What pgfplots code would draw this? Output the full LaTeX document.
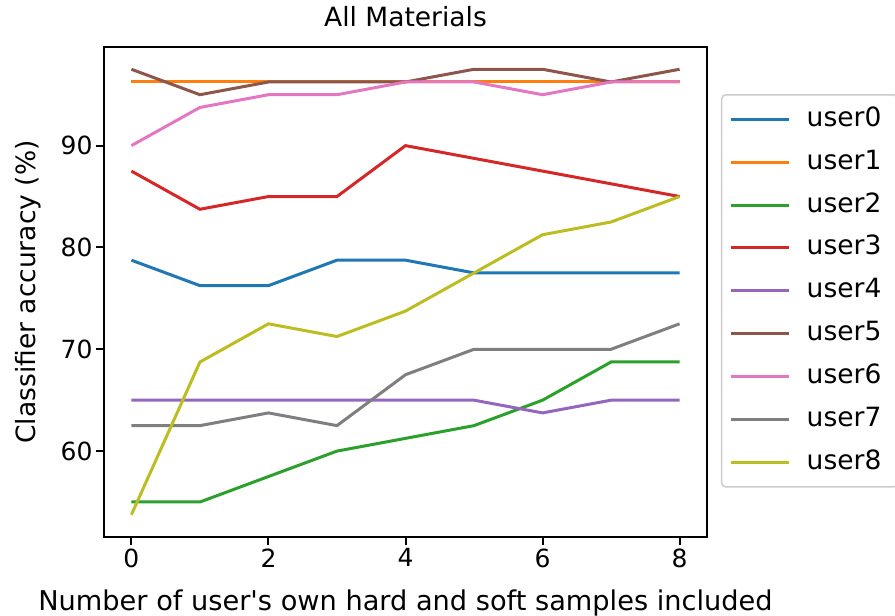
\documentclass[border=0pt]{standalone}
\usepackage{pgfplots}
\pgfplotsset{compat=1.18}
\usepackage{fontspec}
\setmainfont{DejaVu Sans}
\definecolor{c0}{HTML}{1F77B4}
\definecolor{c1}{HTML}{FF7F0E}
\definecolor{c2}{HTML}{2CA02C}
\definecolor{c3}{HTML}{D62728}
\definecolor{c4}{HTML}{9467BD}
\definecolor{c5}{HTML}{8C564B}
\definecolor{c6}{HTML}{E377C2}
\definecolor{c7}{HTML}{7F7F7F}
\definecolor{c8}{HTML}{BCBD22}
\definecolor{legframe}{HTML}{CCCCCC}
\begin{document}
\begin{tikzpicture}
\useasboundingbox (0pt,0pt) rectangle (895pt,616pt);
\begin{axis}[
  at={(104pt,79pt)}, anchor=south west,
  scale only axis, width=603pt, height=490pt,
  xmin=-0.4, xmax=8.4, ymin=51.5625, ymax=99.6875,
  xtick={0,2,4,6,8}, ytick={60,70,80,90},
  tick align=outside, xtick pos=bottom, ytick pos=left,
  major tick length=8pt,
  every tick/.style={black, line width=2pt},
  axis line style={black, line width=2pt},
  tick label style={font=\fontsize{25}{30}\selectfont},
  /pgf/number format/assume math mode=true,
  title={All Materials},
  title style={at={(axis description cs:0.5,1.0306)}, anchor=base, font=\fontsize{26.5}{32}\selectfont},
  xlabel={Number of user\textquotesingle s own hard and soft samples included},
  xlabel style={at={(axis description cs:0.5,-0.149)}, anchor=base, font=\fontsize{27.2}{32}\selectfont},
  ylabel={Classifier accuracy (\%)},
  ylabel style={at={(axis description cs:-0.1144,0.5)}, anchor=base, rotate=0, font=\fontsize{26.5}{32}\selectfont},
  every axis plot/.append style={line width=3pt},
  legend cell align=left,
  legend image code/.code={\draw[#1, line width=3pt] (0pt,0pt) -- (58pt,0pt);},
  legend style={
    at={(axis description cs:1.0232,0.904)}, anchor=north west,
    draw=legframe, line width=1.5pt, rounded corners=4pt, fill=white,
    font=\fontsize{26.5}{32}\selectfont,
    inner xsep=8pt, inner ysep=8.5pt,
    row sep=10.9pt,
    nodes={inner ysep=3pt, inner xsep=8pt, text height=20pt, text depth=6pt},
    /tikz/every odd column/.append style={column sep=8pt},
  },
]
\addplot[c0] coordinates {(0,78.75) (1,76.25) (2,76.25) (3,78.75) (4,78.75) (5,77.5) (6,77.5) (7,77.5) (8,77.5)};
\addlegendentry{user0}
\addplot[c1] coordinates {(0,96.25) (1,96.25) (2,96.25) (3,96.25) (4,96.25) (5,96.25) (6,96.25) (7,96.25) (8,96.25)};
\addlegendentry{user1}
\addplot[c2] coordinates {(0,55) (1,55) (2,57.5) (3,60) (4,61.25) (5,62.5) (6,65) (7,68.75) (8,68.75)};
\addlegendentry{user2}
\addplot[c3] coordinates {(0,87.5) (1,83.75) (2,85) (3,85) (4,90) (5,88.75) (6,87.5) (7,86.25) (8,85)};
\addlegendentry{user3}
\addplot[c4] coordinates {(0,65) (1,65) (2,65) (3,65) (4,65) (5,65) (6,63.75) (7,65) (8,65)};
\addlegendentry{user4}
\addplot[c5] coordinates {(0,97.5) (1,95) (2,96.25) (3,96.25) (4,96.25) (5,97.5) (6,97.5) (7,96.25) (8,97.5)};
\addlegendentry{user5}
\addplot[c6] coordinates {(0,90) (1,93.75) (2,95) (3,95) (4,96.25) (5,96.25) (6,95) (7,96.25) (8,96.25)};
\addlegendentry{user6}
\addplot[c7] coordinates {(0,62.5) (1,62.5) (2,63.75) (3,62.5) (4,67.5) (5,70) (6,70) (7,70) (8,72.5)};
\addlegendentry{user7}
\addplot[c8] coordinates {(0,53.75) (1,68.75) (2,72.5) (3,71.25) (4,73.75) (5,77.5) (6,81.25) (7,82.5) (8,85)};
\addlegendentry{user8}
\end{axis}
\end{tikzpicture}
\end{document}
